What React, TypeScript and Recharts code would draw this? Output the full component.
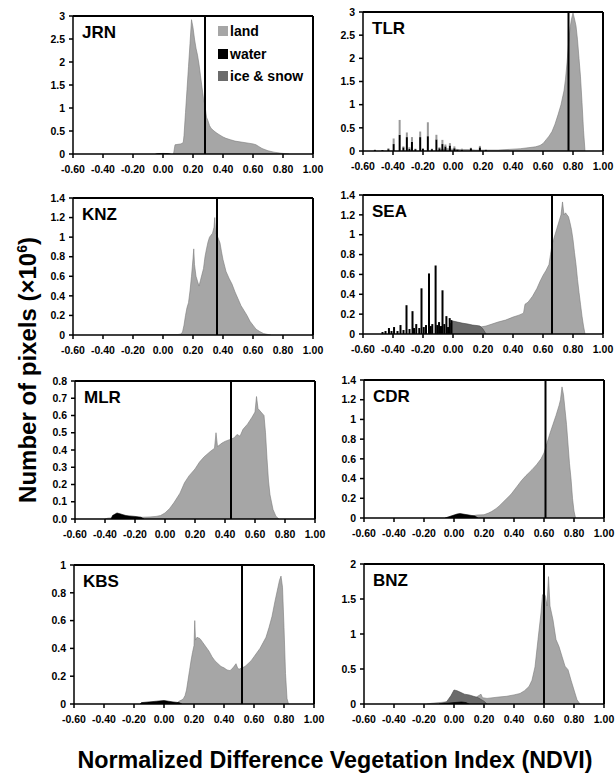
import React from 'react';
import { ComposedChart, Area, Bar, XAxis, YAxis, ReferenceLine, CartesianGrid } from 'recharts';

type Pt = [number, number];
type Spike = [number, number, number];

// ---------- tick labels ----------
const xTicks = [-0.6, -0.4, -0.2, 0, 0.2, 0.4, 0.6, 0.8, 1.0];
const ticks3 = [0, 0.5, 1, 1.5, 2, 2.5, 3];
const ticks14 = [0, 0.2, 0.4, 0.6, 0.8, 1, 1.2, 1.4];
const ticks08 = [0, 0.1, 0.2, 0.3, 0.4, 0.5, 0.6, 0.7, 0.8];
const ticks1 = [0, 0.2, 0.4, 0.6, 0.8, 1];
const ticks2 = [0, 0.5, 1, 1.5, 2];

const legendLabels = ['land', 'water', 'ice & snow'];

// ---------- JRN ----------
const jrnLand: Pt[] = [[0.07,0],[0.08,0.2],[0.1,0.21],[0.12,0.22],[0.135,0.25],[0.14,0.4],[0.15,0.9],[0.16,1.4],[0.17,1.9],[0.18,2.4],[0.19,2.92],[0.2,2.75],[0.21,2.5],[0.22,2.3],[0.23,2.15],[0.24,1.95],[0.25,1.7],[0.26,1.45],[0.27,1.2],[0.28,1.05],[0.29,0.8],[0.3,0.72],[0.31,0.62],[0.32,0.56],[0.34,0.5],[0.36,0.45],[0.38,0.41],[0.4,0.37],[0.42,0.34],[0.45,0.31],[0.48,0.28],[0.52,0.26],[0.56,0.24],[0.6,0.22],[0.62,0.2],[0.64,0.16],[0.66,0.12],[0.7,0.07],[0.74,0.04],[0.78,0.02],[0.82,0.005],[0.84,0]];
const jrnWater: Pt[] = [[-0.05,0],[-0.03,0.01],[0.0,0.012],[0.03,0.01],[0.05,0]];

// ---------- TLR ----------
const tlrLand: Pt[] = [[-0.1,0],[-0.08,0.03],[-0.04,0.05],[0.0,0.04],[0.05,0.03],[0.1,0.03],[0.15,0.02],[0.2,0.02],[0.3,0.02],[0.4,0.04],[0.45,0.05],[0.5,0.07],[0.55,0.09],[0.58,0.12],[0.6,0.16],[0.62,0.24],[0.64,0.32],[0.66,0.42],[0.68,0.58],[0.7,0.78],[0.72,1.0],[0.74,1.3],[0.75,1.55],[0.76,1.9],[0.77,2.3],[0.78,2.65],[0.79,2.85],[0.8,2.98],[0.81,2.85],[0.82,2.7],[0.83,2.4],[0.84,2.0],[0.85,1.6],[0.86,1.05],[0.87,0.45],[0.88,0]];
const tlrSpikes: Spike[] = [[-0.52,0.02,0.03],[-0.47,0.02,0.02],[-0.43,0.04,0.06],[-0.395,0.15,0.27],[-0.355,0.35,0.67],[-0.33,0.08,0.1],[-0.307,0.3,0.4],[-0.29,0.05,0.08],[-0.273,0.2,0.3],[-0.25,0.04,0.05],[-0.218,0.3,0.42],[-0.2,0.05,0.06],[-0.167,0.32,0.62],[-0.14,0.04,0.05],[-0.11,0.25,0.35],[-0.09,0.06,0.08],[-0.07,0.15,0.24],[-0.05,0.1,0.14],[-0.02,0.12,0.17],[0.01,0.06,0.1],[0.03,0.03,0.04],[0.06,0.03,0.05],[0.12,0.06,0.07],[0.18,0.08,0.11],[0.22,0.02,0.03]];

// ---------- KNZ ----------
const knzLand: Pt[] = [[-0.2,0],[-0.18,0.005],[0.0,0.005],[0.1,0.005],[0.12,0.01],[0.13,0.03],[0.14,0.1],[0.15,0.2],[0.16,0.28],[0.17,0.33],[0.18,0.45],[0.19,0.6],[0.2,0.78],[0.205,0.88],[0.21,0.72],[0.22,0.6],[0.23,0.55],[0.24,0.5],[0.25,0.56],[0.26,0.62],[0.27,0.68],[0.28,0.8],[0.29,0.88],[0.3,0.95],[0.31,1.0],[0.32,1.02],[0.33,1.04],[0.34,1.1],[0.345,1.2],[0.35,1.05],[0.36,1.02],[0.37,0.98],[0.38,0.94],[0.39,0.85],[0.4,0.77],[0.42,0.65],[0.44,0.58],[0.46,0.52],[0.48,0.44],[0.5,0.37],[0.52,0.3],[0.54,0.25],[0.56,0.2],[0.58,0.14],[0.6,0.1],[0.62,0.06],[0.645,0.035],[0.67,0.015],[0.7,0.005],[0.72,0]];

// ---------- SEA ----------
const seaLand: Pt[] = [[-0.02,0],[0.0,0.04],[0.05,0.05],[0.1,0.06],[0.15,0.06],[0.18,0.07],[0.2,0.075],[0.22,0.08],[0.26,0.1],[0.3,0.12],[0.35,0.14],[0.4,0.17],[0.44,0.19],[0.47,0.21],[0.48,0.3],[0.5,0.32],[0.53,0.38],[0.56,0.46],[0.58,0.53],[0.6,0.59],[0.62,0.64],[0.64,0.7],[0.65,0.8],[0.66,0.9],[0.67,0.95],[0.68,1.0],[0.7,1.1],[0.72,1.2],[0.73,1.33],[0.74,1.2],[0.75,1.22],[0.76,1.2],[0.77,1.18],[0.78,1.12],[0.79,1.05],[0.8,0.95],[0.81,0.82],[0.82,0.7],[0.83,0.55],[0.84,0.42],[0.85,0.3],[0.86,0.18],[0.87,0.08],[0.88,0]];
const seaIce: Pt[] = [[-0.03,0],[-0.02,0.1],[0.0,0.13],[0.03,0.12],[0.06,0.11],[0.1,0.1],[0.13,0.09],[0.16,0.085],[0.18,0.08],[0.2,0.05],[0.22,0]];
const seaSpikes: Spike[] = [[-0.47,0.02,0.02],[-0.45,0.03,0.03],[-0.427,0.06,0.06],[-0.41,0.03,0.03],[-0.393,0.07,0.07],[-0.37,0.03,0.03],[-0.35,0.09,0.09],[-0.33,0.04,0.04],[-0.31,0.29,0.29],[-0.29,0.05,0.05],[-0.27,0.23,0.23],[-0.26,0.06,0.06],[-0.245,0.1,0.1],[-0.225,0.06,0.06],[-0.21,0.46,0.46],[-0.195,0.07,0.07],[-0.18,0.09,0.09],[-0.16,0.61,0.61],[-0.148,0.08,0.08],[-0.138,0.1,0.1],[-0.116,0.69,0.69],[-0.105,0.09,0.09],[-0.093,0.12,0.12],[-0.08,0.08,0.08],[-0.07,0.44,0.44],[-0.058,0.1,0.1],[-0.044,0.18,0.18],[-0.033,0.07,0.07],[-0.022,0.16,0.16],[-0.01,0.14,0.14]];

// ---------- MLR ----------
const mlrLand: Pt[] = [[-0.4,0],[-0.38,0.005],[-0.3,0.01],[-0.2,0.01],[-0.15,0.01],[-0.1,0.012],[-0.06,0.015],[-0.03,0.02],[0.0,0.035],[0.03,0.06],[0.06,0.095],[0.1,0.15],[0.13,0.21],[0.16,0.25],[0.2,0.29],[0.23,0.33],[0.26,0.36],[0.3,0.39],[0.33,0.41],[0.34,0.5],[0.35,0.42],[0.38,0.44],[0.4,0.45],[0.43,0.46],[0.46,0.47],[0.48,0.49],[0.5,0.48],[0.52,0.52],[0.55,0.55],[0.58,0.59],[0.6,0.62],[0.61,0.71],[0.62,0.64],[0.64,0.62],[0.66,0.6],[0.67,0.5],[0.68,0.35],[0.69,0.22],[0.7,0.14],[0.72,0.055],[0.74,0.015],[0.76,0]];
const mlrWater: Pt[] = [[-0.36,0],[-0.35,0.02],[-0.33,0.03],[-0.32,0.035],[-0.3,0.03],[-0.28,0.025],[-0.26,0.02],[-0.24,0.018],[-0.2,0.015],[-0.16,0.01],[-0.14,0]];

// ---------- CDR ----------
const cdrLand: Pt[] = [[0.1,0],[0.12,0.02],[0.15,0.03],[0.2,0.033],[0.23,0.05],[0.25,0.065],[0.28,0.095],[0.3,0.12],[0.34,0.18],[0.38,0.24],[0.42,0.32],[0.45,0.38],[0.48,0.43],[0.5,0.46],[0.52,0.49],[0.55,0.54],[0.58,0.6],[0.6,0.66],[0.62,0.76],[0.64,0.86],[0.66,0.95],[0.68,1.04],[0.7,1.14],[0.71,1.2],[0.72,1.33],[0.73,1.25],[0.74,1.1],[0.75,0.95],[0.76,0.75],[0.77,0.55],[0.78,0.4],[0.79,0.2],[0.8,0.07],[0.81,0]];
const cdrWater: Pt[] = [[-0.06,0],[-0.04,0.01],[-0.02,0.02],[0.0,0.03],[0.02,0.04],[0.04,0.045],[0.06,0.04],[0.08,0.035],[0.1,0.03],[0.12,0.025],[0.14,0.02],[0.16,0]];

// ---------- KBS ----------
const kbsLand: Pt[] = [[0.08,0],[0.1,0.02],[0.12,0.03],[0.13,0.04],[0.14,0.06],[0.15,0.1],[0.16,0.17],[0.17,0.24],[0.18,0.31],[0.19,0.37],[0.2,0.42],[0.205,0.6],[0.21,0.46],[0.22,0.48],[0.24,0.47],[0.26,0.44],[0.28,0.41],[0.3,0.38],[0.32,0.34],[0.34,0.31],[0.36,0.29],[0.38,0.27],[0.4,0.26],[0.42,0.245],[0.44,0.24],[0.46,0.26],[0.48,0.29],[0.49,0.26],[0.5,0.25],[0.52,0.26],[0.54,0.27],[0.56,0.29],[0.58,0.31],[0.6,0.34],[0.62,0.37],[0.64,0.4],[0.66,0.44],[0.68,0.48],[0.7,0.55],[0.72,0.63],[0.74,0.74],[0.76,0.84],[0.77,0.89],[0.78,0.92],[0.79,0.84],[0.8,0.55],[0.81,0.22],[0.82,0.04],[0.83,0]];
const kbsWater: Pt[] = [[-0.16,0],[-0.15,0.01],[-0.1,0.015],[-0.05,0.02],[0.0,0.025],[0.03,0.02],[0.06,0.015],[0.1,0.01],[0.12,0]];

// ---------- BNZ ----------
const bnzLand: Pt[] = [[-0.18,0],[-0.15,0.01],[-0.1,0.02],[-0.05,0.03],[0.0,0.05],[0.05,0.07],[0.1,0.08],[0.15,0.1],[0.18,0.14],[0.19,0.09],[0.22,0.08],[0.26,0.09],[0.3,0.1],[0.35,0.11],[0.4,0.13],[0.44,0.15],[0.47,0.19],[0.5,0.25],[0.52,0.34],[0.54,0.53],[0.56,0.92],[0.58,1.3],[0.59,1.56],[0.6,1.58],[0.61,1.54],[0.62,1.4],[0.63,1.82],[0.64,1.4],[0.66,1.2],[0.68,0.92],[0.7,0.82],[0.72,0.68],[0.74,0.54],[0.76,0.49],[0.78,0.34],[0.8,0.2],[0.82,0.06],[0.84,0]];
const bnzIce: Pt[] = [[-0.1,0],[-0.05,0.03],[-0.02,0.12],[0.0,0.2],[0.02,0.19],[0.04,0.17],[0.07,0.14],[0.1,0.13],[0.13,0.11],[0.16,0.09],[0.2,0.04],[0.22,0]];
const bnzWater: Pt[] = [[-0.1,0],[-0.05,0.01],[0.0,0.02],[0.05,0.03],[0.08,0.02],[0.1,0]];

// ---------- panel meta ----------
const siteNames = ['JRN', 'TLR', 'KNZ', 'SEA', 'MLR', 'CDR', 'KBS', 'BNZ'];
const meanNdvi = [0.28, 0.77, 0.36, 0.66, 0.44, 0.61, 0.52, 0.6];

const LAND = '#a6a6a6';
const WATER = '#000000';
const ICE = '#6b6b6b';
const FONT = '"Liberation Sans", Arial, Helvetica, sans-serif';

const YW = 50;
const MT = 10;
const MR = 16;
const XH = 30;
const PW = 240;

type Box = { left: number; top: number; h: number };

type PanelProps = {
  name: string;
  mean: number;
  land: Pt[];
  water?: Pt[];
  ice?: Pt[];
  spikes?: Spike[];
  yTicks: number[];
  yFmt?: (v: number) => string;
  box: Box;
  legend?: boolean;
};

function buildRows(land: Pt[], water?: Pt[], ice?: Pt[], spikes?: Spike[]) {
  const map = new Map<number, any>();
  const get = (x: number) => {
    const k = Math.round(x * 10000) / 10000;
    let r = map.get(k);
    if (!r) {
      r = { x: k };
      map.set(k, r);
    }
    return r;
  };
  land.forEach(([x, y]) => (get(x).land = y));
  (water || []).forEach(([x, y]) => (get(x).water = y));
  (ice || []).forEach(([x, y]) => (get(x).ice = y));
  (spikes || []).forEach(([x, w, t]) => {
    const r = get(x);
    r.ws = w;
    r.ls = Math.max(0, t - w);
  });
  return Array.from(map.values()).sort((a, b) => a.x - b.x);
}

const tickStyle = { fill: '#000', fontSize: 10.5, fontWeight: 700, fontFamily: FONT };

const SpikeShape = (p: any) => {
  const h = Number(p.height);
  if (!isFinite(h) || Math.abs(h) < 0.01) return <g />;
  const cx = Number(p.x) + Number(p.width) / 2;
  const top = h > 0 ? Number(p.y) : Number(p.y) + h;
  return <rect x={cx - 1} y={top} width={2} height={Math.abs(h)} fill={p.fill} />;
};

function Panel({ name, mean, land, water, ice, spikes, yTicks, yFmt, box, legend }: PanelProps) {
  const rows = buildRows(land, water, ice, spikes);
  const yMax = yTicks[yTicks.length - 1];
  return (
    <div style={{ position: 'absolute', left: box.left - YW, top: box.top - MT }}>
      <ComposedChart
        width={YW + PW + MR}
        height={MT + box.h + XH}
        data={rows}
        margin={{ top: MT, right: MR, left: 0, bottom: 0 }}
      >
        <CartesianGrid
          horizontal
          vertical
          horizontalValues={[yMax]}
          verticalValues={[1]}
          stroke="#000"
          strokeWidth={2}
        />
        <XAxis
          dataKey="x"
          type="number"
          domain={[-0.6, 1]}
          ticks={xTicks}
          interval={0}
          allowDataOverflow
          tickFormatter={(v: number) => v.toFixed(2)}
          height={XH}
          tick={tickStyle}
          tickSize={4}
          tickMargin={8}
          stroke="#000"
          strokeWidth={1.5}
        />
        <YAxis
          type="number"
          domain={[0, yMax]}
          ticks={yTicks}
          interval={0}
          allowDataOverflow
          tickFormatter={yFmt || ((v: number) => String(v))}
          width={YW}
          tick={tickStyle}
          tickSize={4}
          tickMargin={4}
          stroke="#000"
          strokeWidth={1.5}
        />
        <Area
          type="linear"
          dataKey="land"
          fill={LAND}
          fillOpacity={1}
          stroke="#7a7a7a"
          strokeWidth={0.6}
          connectNulls
          dot={false}
          activeDot={false}
          isAnimationActive={false}
        />
        {ice && (
          <Area
            type="linear"
            dataKey="ice"
            fill={ICE}
            fillOpacity={1}
            stroke="#444"
            strokeWidth={0.6}
            connectNulls
            dot={false}
            activeDot={false}
            isAnimationActive={false}
          />
        )}
        {water && (
          <Area
            type="linear"
            dataKey="water"
            fill={WATER}
            fillOpacity={1}
            stroke="#000"
            strokeWidth={0.6}
            connectNulls
            dot={false}
            activeDot={false}
            isAnimationActive={false}
          />
        )}
        {spikes && <Bar dataKey="ws" stackId="s" fill={WATER} shape={SpikeShape} isAnimationActive={false} />}
        {spikes && <Bar dataKey="ls" stackId="s" fill="#9a9a9a" shape={SpikeShape} isAnimationActive={false} />}
        <ReferenceLine x={mean} stroke="#000" strokeWidth={2} />
      </ComposedChart>
      <div
        style={{
          position: 'absolute',
          left: YW + 9,
          top: MT + 8,
          fontFamily: FONT,
          fontWeight: 700,
          fontSize: 17,
          lineHeight: '17px',
          color: '#000',
        }}
      >
        {name}
      </div>
      {legend &&
        legendLabels.map((lab, i) => (
          <div
            key={lab}
            style={{
              position: 'absolute',
              left: YW + 145,
              top: MT + 15 - 8 + i * 22.7,
              display: 'flex',
              alignItems: 'center',
              fontFamily: FONT,
              fontWeight: 700,
              fontSize: 14,
              lineHeight: '16px',
              color: '#000',
              whiteSpace: 'nowrap',
            }}
          >
            <span
              style={{
                display: 'inline-block',
                width: 10,
                height: 10,
                marginRight: 2,
                background: [LAND, WATER, ICE][i],
              }}
            />
            {lab}
          </div>
        ))}
    </div>
  );
}

export default function App() {
  return (
    <div style={{ position: 'absolute', left: 0, top: 0, width: 616, height: 773, background: '#fff', overflow: 'hidden' }}>
      <Panel name={siteNames[0]} mean={meanNdvi[0]} land={jrnLand} water={jrnWater} yTicks={ticks3} box={{ left: 73, top: 16, h: 138 }} legend />
      <Panel name={siteNames[1]} mean={meanNdvi[1]} land={tlrLand} spikes={tlrSpikes} yTicks={ticks3} box={{ left: 363, top: 12, h: 139 }} />
      <Panel name={siteNames[2]} mean={meanNdvi[2]} land={knzLand} yTicks={ticks14} box={{ left: 73, top: 198, h: 137 }} />
      <Panel name={siteNames[3]} mean={meanNdvi[3]} land={seaLand} ice={seaIce} spikes={seaSpikes} yTicks={ticks14} box={{ left: 363, top: 195, h: 139 }} />
      <Panel name={siteNames[4]} mean={meanNdvi[4]} land={mlrLand} water={mlrWater} yTicks={ticks08} yFmt={(v) => v.toFixed(1)} box={{ left: 75, top: 381, h: 138 }} />
      <Panel name={siteNames[5]} mean={meanNdvi[5]} land={cdrLand} water={cdrWater} yTicks={ticks14} box={{ left: 364, top: 380, h: 138 }} />
      <Panel name={siteNames[6]} mean={meanNdvi[6]} land={kbsLand} water={kbsWater} yTicks={ticks1} box={{ left: 74, top: 565, h: 139 }} />
      <Panel name={siteNames[7]} mean={meanNdvi[7]} land={bnzLand} ice={bnzIce} water={bnzWater} yTicks={ticks2} box={{ left: 364, top: 564, h: 140 }} />
      <div
        style={{
          position: 'absolute',
          left: 22 - 150,
          top: 370 - 13,
          width: 300,
          height: 26,
          lineHeight: '26px',
          textAlign: 'center',
          transform: 'rotate(-90deg)',
          fontFamily: FONT,
          fontWeight: 700,
          fontSize: 24,
          color: '#000',
          whiteSpace: 'nowrap',
        }}
      >
        Number of pixels (×10<sup style={{ fontSize: 14 }}>6</sup>)
      </div>
      <div
        style={{
          position: 'absolute',
          left: 0,
          top: 747,
          width: 670,
          lineHeight: '26px',
          textAlign: 'center',
          fontFamily: FONT,
          fontWeight: 700,
          fontSize: 23.3,
          color: '#000',
          whiteSpace: 'nowrap',
        }}
      >
        Normalized Difference Vegetation Index (NDVI)
      </div>
    </div>
  );
}
